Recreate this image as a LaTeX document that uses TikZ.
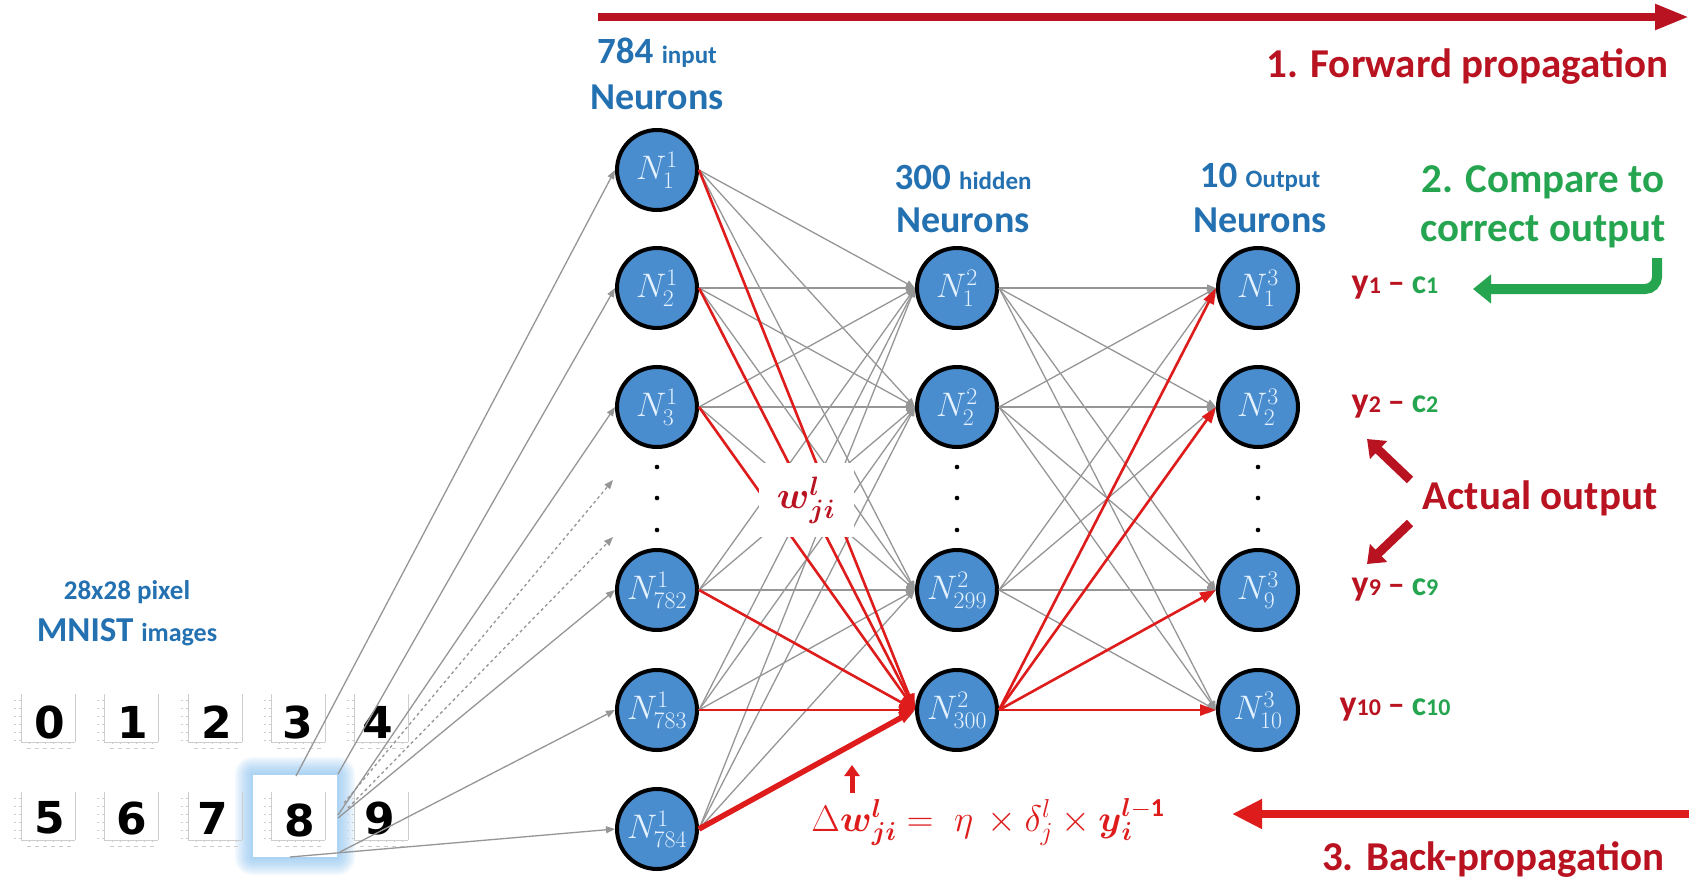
\RequirePackage{fix-cm}
\documentclass[tikz,border=0pt]{standalone}
\usepackage{amsmath}
\usepackage{fontspec}
\setmainfont{Carlito}
\newfontfamily\digitfont{DejaVu Sans}
\usetikzlibrary{arrows.meta}
\definecolor{nblue}{RGB}{74,141,206}
\definecolor{tblue}{RGB}{36,113,178}
\definecolor{dred}{RGB}{185,18,32}
\definecolor{bred}{RGB}{222,28,28}
\definecolor{grn}{RGB}{38,165,80}
\definecolor{lgray}{RGB}{150,150,150}
\definecolor{fgray}{RGB}{205,205,205}
\definecolor{ntext}{RGB}{228,242,255}
\definecolor{glow}{RGB}{120,185,240}

\newcommand\mnistframe[2]{%
  \begin{scope}[shift={(#1,#2)}, draw=fgray, line width=0.8pt]
    \draw (8,2) -- (8,50) -- (62,50);
    \draw (62,2) -- (62,50);
    \foreach \t in {8,16,24,32,40,48} {\draw (6,\t) -- (8,\t); \draw (1,\t) -- (3,\t);}
    \foreach \t in {16,24,32,40,48,56} {\draw (\t,50) -- (\t,52); \draw (\t-2,56) -- (\t+2,56);}
  \end{scope}}

\newcommand\yclab[1]{\bfseries\textcolor{dred}{\fontsize{36}{36}\selectfont y\fontsize{24}{24}\selectfont #1}\hspace{7pt}\textcolor{dred}{\fontsize{34}{34}\selectfont –}\hspace{7pt}\textcolor{grn}{\fontsize{34}{34}\selectfont c\fontsize{24}{24}\selectfont #1}}

\begin{document}
\begin{tikzpicture}[x=1pt,y=-1pt,
  neuron/.style={circle, draw=black, line width=4pt, fill=nblue, minimum size=80pt, inner sep=0pt, text=ntext, font=\fontsize{34}{34}\selectfont},
  gconn/.style={draw=lgray, line width=1.3pt, -{Triangle[length=9pt,width=7pt]}},
  gdash/.style={gconn, dashed},
  rconn/.style={draw=bred, line width=2.6pt, -{Triangle[length=16pt,width=11pt]}},
  rthick/.style={rconn, line width=5.5pt},
  bigarrow/.style={line width=8pt, -{Triangle[length=34pt,width=24pt]}},
  fatarrow/.style={line width=9pt, -{Triangle[length=16pt,width=24pt]}},
  title/.style={font=\bfseries\fontsize{41}{43}\selectfont},
  layertext/.style={text=tblue, font=\bfseries},
  digit/.style={font=\digitfont\bfseries\fontsize{44}{44}\selectfont, text=black},
  ndot/.style={fill=black}
]
\useasboundingbox (0,0) rectangle (1689,881);
\fill[white] (0,0) rectangle (1689,881);

% ---------- MNIST images ----------
\node[layertext, font=\bfseries\fontsize{27}{29}\selectfont] (pix) at (127,592) {28x28 pixel};
\node[layertext] (mnist) at (127,632) {{\fontsize{35}{37}\selectfont MNIST\ }{\fontsize{26}{28}\selectfont images}};

\foreach \i in {18,16,...,2} {
  \fill[glow, opacity=0.09, rounded corners=\i pt] (253-\i,775-\i) rectangle (337+\i,857+\i);
}
\fill[white] (253,775) rectangle (337,857);

\foreach \xx in {13,96,180,263,346} {\mnistframe{\xx}{692}}
\foreach \xx in {13,96,180,263,346} {\mnistframe{\xx}{790}}

\node[digit] (d0) at (50,722) {0};
\node[digit] (d1) at (133,722) {1};
\node[digit] (d2) at (217,722) {2};
\node[digit] (d3) at (298,722) {3};
\node[digit] (d4) at (378,722) {4};
\node[digit] (d5) at (50,818) {5};
\node[digit] (d6) at (132,818) {6};
\node[digit] (d7) at (213,818) {7};
\node[digit] (d8) at (300,820) {8};
\node[digit] (d9) at (380,818) {9};

% ---------- neurons ----------
\node[neuron] (i1)   at (657,170) {$N^{1}_{1}$};
\node[neuron] (i2)   at (657,288) {$N^{1}_{2}$};
\node[neuron] (i3)   at (657,407) {$N^{1}_{3}$};
\node[neuron] (i782) at (657,590) {$N^{1}_{782}$};
\node[neuron] (i783) at (657,710) {$N^{1}_{783}$};
\node[neuron] (i784) at (657,829) {$N^{1}_{784}$};

\node[neuron] (h1)   at (957,288) {$N^{2}_{1}$};
\node[neuron] (h2)   at (957,407) {$N^{2}_{2}$};
\node[neuron] (h299) at (957,590) {$N^{2}_{299}$};
\node[neuron] (h300) at (957,710) {$N^{2}_{300}$};

\node[neuron] (o1)  at (1258,288) {$N^{3}_{1}$};
\node[neuron] (o2)  at (1258,407) {$N^{3}_{2}$};
\node[neuron] (o9)  at (1258,590) {$N^{3}_{9}$};
\node[neuron] (o10) at (1258,710) {$N^{3}_{10}$};

\foreach \xx in {657,957,1258} {
  \foreach \yy in {467,498,530} {\fill[ndot] (\xx,\yy) circle (2.3pt);}
}

% ---------- image -> input connectors ----------
\coordinate (s1) at (296,776);
\coordinate (s2) at (338,774);
\coordinate (s3) at (338,815);
\coordinate (sd1) at (344,803);
\coordinate (sd2) at (348,808);
\coordinate (e1) at (613,480);
\coordinate (e2) at (613,537);
\coordinate (s782) at (338,818);
\coordinate (s783) at (340,852);
\coordinate (s784) at (290,857);
\draw[gconn] (s1) -- (i1.west);
\draw[gconn] (s2) -- (i2.west);
\draw[gconn] (s3) -- (i3.west);
\draw[gdash] (sd1) -- (e1);
\draw[gdash] (sd2) -- (e2);
\draw[gconn] (s782) -- (i782.west);
\draw[gconn] (s783) -- (i783.west);
\draw[gconn] (s784) -- (i784.west);

% ---------- gray weights ----------
\foreach \a in {i1,i2,i3,i782,i783,i784} {
  \foreach \b in {h1,h2,h299,h300} {\draw[gconn] (\a.east) -- (\b.west);}
}
\foreach \a in {h1,h2,h299,h300} {
  \foreach \b in {o1,o2,o9,o10} {\draw[gconn] (\a.east) -- (\b.west);}
}

% ---------- red weights ----------
\foreach \a in {i1,i2,i3,i782,i783} {\draw[rconn] (\a.east) -- (h300.west);}
\draw[rthick] (i784.east) -- (h300.west);
\foreach \b in {o1,o2,o9,o10} {\draw[rconn] (h300.east) -- (\b.west);}

% weight label
\node[fill=white, minimum width=95pt, minimum height=74pt, text=dred, font=\fontsize{38}{38}\selectfont] (wl) at (806,500) {$\boldsymbol{w}^{\boldsymbol{l}}_{\boldsymbol{ji}}$};

% ---------- layer titles ----------
\node[layertext] (t784) at (657,53) {{\fontsize{37}{39}\selectfont 784\ }{\fontsize{25}{27}\selectfont input}};
\node[layertext, font=\bfseries\fontsize{38}{40}\selectfont] (tn1) at (657,97) {Neurons};
\node[layertext] (t300) at (963,177) {{\fontsize{37}{39}\selectfont 300\ }{\fontsize{25}{27}\selectfont hidden}};
\node[layertext, font=\bfseries\fontsize{38}{40}\selectfont] (tn2) at (963,220) {Neurons};
\node[layertext] (t10) at (1260,177) {{\fontsize{37}{39}\selectfont 10\ }{\fontsize{25}{27}\selectfont Output}};
\node[layertext, font=\bfseries\fontsize{38}{40}\selectfont] (tn3) at (1260,220) {Neurons};

% ---------- forward propagation ----------
\coordinate (fs) at (598,17);
\coordinate (fe) at (1689,17);
\draw[dred, bigarrow] (fs) -- (fe);
\node[title, text=dred, anchor=east] (fwd) at (1672,67) {1. Forward propagation};

% ---------- compare ----------
\node[title, text=grn] (cmp1) at (1543,182) {2. Compare to};
\node[title, text=grn] (cmp2) at (1543,232) {correct output};
\coordinate (gs) at (1657,258);
\coordinate (gc) at (1657,289);
\coordinate (ge) at (1473,289);
\draw[grn, line width=10pt, rounded corners=12pt, -{Triangle[length=18pt,width=28pt]}] (gs) -- (gc) -- (ge);

% ---------- output labels ----------
\node (y1)  at (1395,288) {\yclab{1}};
\node (y2)  at (1395,407) {\yclab{2}};
\node (y9)  at (1395,590) {\yclab{9}};
\node (y10) at (1395,710) {\yclab{10}};

\node[title, text=dred] (act) at (1540,498) {Actual output};
\coordinate (a1s) at (1410,480);
\coordinate (a1e) at (1367,439);
\coordinate (a2s) at (1410,523);
\coordinate (a2e) at (1367,564);
\draw[dred, fatarrow] (a1s) -- (a1e);
\draw[dred, fatarrow] (a2s) -- (a2e);

% ---------- back propagation ----------
\coordinate (bs) at (1689,814);
\coordinate (be) at (1232,814);
\draw[bred, line width=8pt, -{Triangle[length=30pt,width=28pt]}] (bs) -- (be);
\node[title, text=dred, anchor=east] (bwd) at (1668,860) {3. Back-propagation};

\node[text=bred, font=\fontsize{37}{37}\selectfont] (frm) at (988,822)
  {$\Delta\boldsymbol{w}^{\boldsymbol{l}}_{\boldsymbol{ji}} = \;\eta\, \times \delta^{l}_{j} \times \boldsymbol{y}^{\boldsymbol{l}-\mathbf{1}}_{\boldsymbol{i}}$};
\coordinate (us) at (852,793);
\coordinate (ue) at (852,765);
\draw[bred, line width=5pt, -{Triangle[length=11pt,width=15pt]}] (us) -- (ue);
\end{tikzpicture}
\end{document}
